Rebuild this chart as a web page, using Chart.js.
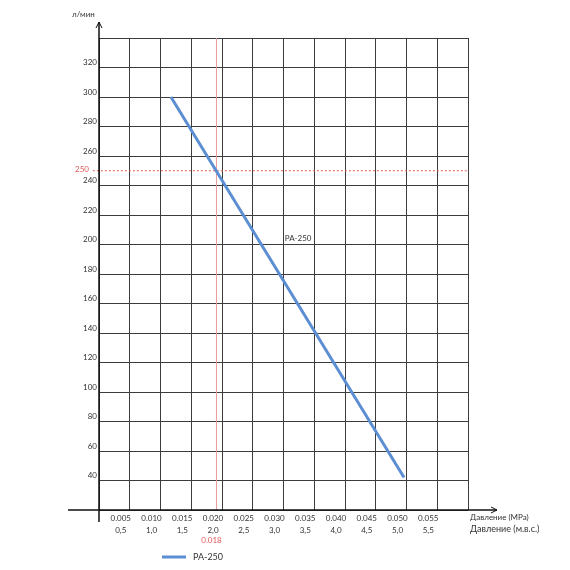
<!DOCTYPE html>
<html>
<head>
<meta charset="utf-8">
<script src="https://cdn.jsdelivr.net/npm/chart.js@4.4.0/dist/chart.umd.min.js"></script>
<style>
  html, body { margin: 0; padding: 0; background: #fff; }
</style>
</head>
<body>
<canvas id="myChart" width="570" height="570"></canvas>
<script>
// Tick labels of the two pressure rows and the flow axis
var xTickValues = [0.005, 0.010, 0.015, 0.020, 0.025, 0.030, 0.035, 0.040, 0.045, 0.050, 0.055];
var xTickMPa = ['0.005', '0.010', '0.015', '0.020', '0.025', '0.030', '0.035', '0.040', '0.045', '0.050', '0.055'];
var xTickMvs = ['0,5', '1,0', '1,5', '2,0', '2,5', '3,0', '3,5', '4,0', '4,5', '5,0', '5,5'];
var yTickValues = [40, 60, 80, 100, 120, 140, 160, 180, 200, 220, 240, 260, 280, 300, 320];

// Series PA-250 (pressure MPa -> flow l/min)
var seriesName = 'PA-250';
var seriesX = [0.0117, 0.0496];
var seriesY = [300, 42];

// Working point marks
var markFlow = 250;
var markPressure = 0.0191;
var markPressureLabel = '0.018';

var blue = '#5b8ed2';
var red = '#e05a5a';
var gridColor = '#3c3c3c';

Chart.defaults.font.family = 'Lato, "Liberation Sans", sans-serif';
Chart.defaults.color = '#333';

var ctx = document.getElementById('myChart').getContext('2d');

// draws axis arrows, extra labels and the legend
var extras = {
  id: 'extras',
  afterDraw: function (chart) {
    var c = chart.ctx;
    var xs = chart.scales.x, ys = chart.scales.y;
    var area = chart.chartArea;
    var x0 = xs.getPixelForValue(0);
    var y0 = ys.getPixelForValue(20);
    c.save();
    // axes with arrows
    c.strokeStyle = '#111';
    c.lineWidth = 1.5;
    c.beginPath();
    c.moveTo(x0 - 31, y0); c.lineTo(area.right + 29, y0);
    c.moveTo(x0, y0 + 12); c.lineTo(x0, area.top - 16);
    c.stroke();
    c.lineWidth = 1;
    c.beginPath();
    c.moveTo(area.right + 23, y0 - 3); c.lineTo(area.right + 29, y0); c.lineTo(area.right + 23, y0 + 3);
    c.moveTo(x0 - 3, area.top - 10); c.lineTo(x0, area.top - 16); c.lineTo(x0 + 3, area.top - 10);
    c.stroke();

    // axis titles
    c.fillStyle = '#333';
    c.textBaseline = 'middle';
    c.textAlign = 'left';
    c.font = '8px Lato, sans-serif';
    c.fillText('л/мин', x0 - 27, 14);
    c.fillText('Давление (MPa)', area.right + 2, y0 + 7);
    c.font = '9px Lato, sans-serif';
    c.fillText('Давление (м.в.с.)', area.right + 2, y0 + 19);

    // series label
    c.font = '8px Lato, sans-serif';
    c.fillText(seriesName, xs.getPixelForValue(0.0302), ys.getPixelForValue(204));

    // red marks labels
    c.fillStyle = red;
    c.textAlign = 'right';
    c.fillText(String(markFlow), x0 - 10, ys.getPixelForValue(markFlow) - 1);
    c.textAlign = 'center';
    c.fillText(markPressureLabel, xs.getPixelForValue(markPressure) - 5, y0 + 30);

    // legend
    var lx = x0 + 63, ly = y0 + 47;
    c.strokeStyle = blue;
    c.lineWidth = 3;
    c.beginPath();
    c.moveTo(lx, ly); c.lineTo(lx + 24, ly);
    c.stroke();
    c.fillStyle = '#333';
    c.textAlign = 'left';
    c.font = '9px Lato, sans-serif';
    c.fillText(seriesName, lx + 31, ly);
    c.restore();
  }
};

var myChart = new Chart(ctx, {
  type: 'scatter',
  data: {
    datasets: [{
      label: seriesName,
      data: seriesX.map(function (x, i) { return { x: x, y: seriesY[i] }; }),
      showLine: true,
      borderColor: blue,
      backgroundColor: blue,
      borderWidth: 3,
      pointRadius: 0
    }, {
      label: 'flow mark',
      data: [{ x: -0.001, y: markFlow }, { x: 0.06, y: markFlow }],
      showLine: true,
      borderColor: red,
      borderWidth: 1,
      borderDash: [2, 2],
      pointRadius: 0,
      clip: false
    }, {
      label: 'pressure mark',
      data: [{ x: markPressure, y: 20 }, { x: markPressure, y: 340 }],
      showLine: true,
      borderColor: '#e59a9a',
      borderWidth: 1,
      pointRadius: 0
    }]
  },
  options: {
    responsive: false,
    animation: false,
    layout: { padding: { top: 38, right: 102, bottom: 0, left: 0 } },
    plugins: {
      legend: { display: false },
      tooltip: { enabled: false }
    },
    scales: {
      x: {
        type: 'linear',
        min: 0,
        max: 0.06,
        afterBuildTicks: function (scale) {
          scale.ticks = [0].concat(xTickValues, [0.06]).map(function (v) { return { value: v }; });
        },
        afterFit: function (scale) { scale.height = 60; },
        grid: { color: gridColor, drawTicks: false },
        border: { display: false },
        ticks: {
          autoSkip: false,
          maxRotation: 0,
          padding: 2,
          labelOffset: -9,
          font: { size: 8, lineHeight: 1.5 },
          callback: function (value, index) {
            if (index === 0 || index > xTickMPa.length) return '';
            return [xTickMPa[index - 1], xTickMvs[index - 1]];
          }
        }
      },
      y: {
        min: 20,
        max: 340,
        afterBuildTicks: function (scale) {
          scale.ticks = [20].concat(yTickValues, [340]).map(function (v) { return { value: v }; });
        },
        afterFit: function (scale) { scale.width = 99; },
        grid: { color: gridColor, drawTicks: false },
        border: { display: false },
        ticks: {
          padding: 2,
          labelOffset: -5,
          font: { size: 8 },
          callback: function (value) {
            return yTickValues.indexOf(value) >= 0 ? String(value) : '';
          }
        }
      }
    }
  },
  plugins: [extras]
});
</script>
</body>
</html>
